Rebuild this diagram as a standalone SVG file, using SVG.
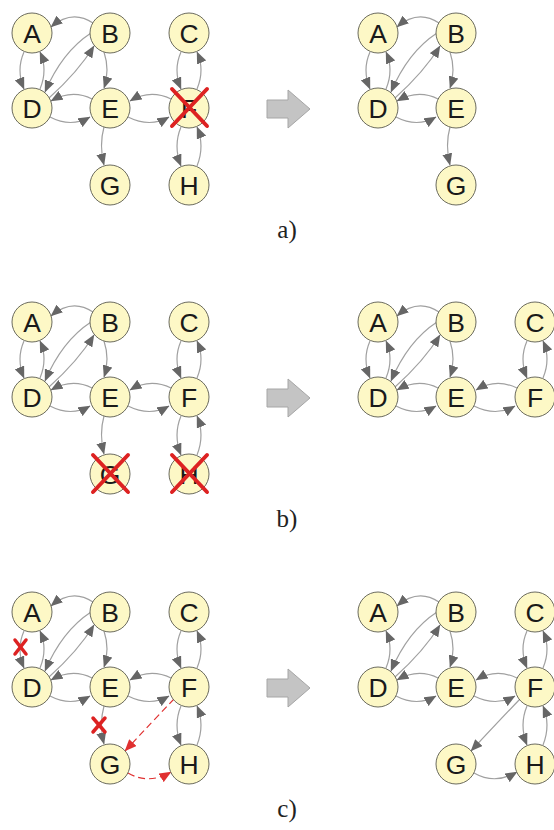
<svg xmlns="http://www.w3.org/2000/svg" width="554" height="830" viewBox="0 0 554 830">
<style>
.n{fill:#fdf8c6;stroke:#6b6b5e;stroke-width:1}
.t{font-family:"Liberation Sans",Arial,sans-serif;font-size:26.5px;fill:#1a1a1a;text-anchor:middle}
.e{fill:none;stroke:#a0a0a0;stroke-width:1.2;marker-end:url(#ah)}
.r{fill:none;stroke:#e03030;stroke-width:1.2;stroke-dasharray:7,4;marker-end:url(#ahr)}
.x{stroke:#dd2222;stroke-width:4;stroke-linecap:round}
.xs{stroke:#dd2222;stroke-width:3.5;stroke-linecap:round}
.bigarrow{fill:#c4c4c4;stroke:#a6a6a6;stroke-width:1}
.lbl{font-family:"Liberation Serif","Times New Roman",serif;font-size:25px;fill:#222;text-anchor:middle}
</style>
<defs>
<marker id="ah" markerUnits="userSpaceOnUse" markerWidth="12" markerHeight="10" refX="11.5" refY="5" orient="auto"><path d="M0,0 L12,5 L0,10 z" fill="#666"/></marker>
<marker id="ahr" markerUnits="userSpaceOnUse" markerWidth="12" markerHeight="10" refX="11.5" refY="5" orient="auto"><path d="M0,0 L12,5 L0,10 z" fill="#e03030"/></marker>
</defs>

<!-- PANEL A -->
<g id="panel-a">
 <g id="a-left-connectors">
  <path class="e" d="M93,23 Q72,9 51,27"/>
  <path class="e" d="M24,52 Q16,70 24,89"/>
  <path class="e" d="M40,89 Q48,70 40,52"/>
  <path class="e" d="M91,33 Q62,52 45,92"/>
  <path class="e" d="M49,98 Q78,72 94,46"/>
  <path class="e" d="M104,52 Q110,70 104,88"/>
  <path class="e" d="M92,99 Q72,89 51,101"/>
  <path class="e" d="M50,117 Q71,128 90,117"/>
  <path class="e" d="M171,99 Q150,89 130,101"/>
  <path class="e" d="M128,117 Q150,128 169,117"/>
  <path class="e" d="M181,52 Q173,70 181,89"/>
  <path class="e" d="M197,89 Q205,70 197,52"/>
  <path class="e" d="M104,127 Q99,145 104,165"/>
  <path class="e" d="M181,127 Q173,146 181,166"/>
  <path class="e" d="M197,166 Q205,146 197,127"/>
 </g>
 <g id="a-left-A"><circle class="n" cx="32" cy="33" r="20"/><text class="t" x="32" y="42.5">A</text></g>
 <g id="a-left-B"><circle class="n" cx="110" cy="33" r="20"/><text class="t" x="110" y="42.5">B</text></g>
 <g id="a-left-C"><circle class="n" cx="189" cy="33" r="20"/><text class="t" x="189" y="42.5">C</text></g>
 <g id="a-left-D"><circle class="n" cx="32" cy="108" r="20"/><text class="t" x="32" y="117.5">D</text></g>
 <g id="a-left-E"><circle class="n" cx="110" cy="108" r="20"/><text class="t" x="110" y="117.5">E</text></g>
 <g id="a-left-F"><circle class="n" cx="189" cy="108" r="20"/><text class="t" x="189" y="117.5">F</text></g>
 <g id="a-left-G"><circle class="n" cx="110" cy="185" r="20"/><text class="t" x="110" y="194.5">G</text></g>
 <g id="a-left-H"><circle class="n" cx="189" cy="185" r="20"/><text class="t" x="189" y="194.5">H</text></g>
 <g id="a-cross-F"><line class="x" x1="172" y1="89" x2="207" y2="126"/><line class="x" x1="207" y1="89" x2="172" y2="126"/></g>
 <polygon id="a-arrow" class="bigarrow" points="267,100 288,100 288,90 310,109 288,128 288,118 267,118"/>
 <g transform="translate(346,0)">
  <g id="a-right-connectors">
   <path class="e" d="M93,23 Q72,9 51,27"/>
   <path class="e" d="M24,52 Q16,70 24,89"/>
   <path class="e" d="M40,89 Q48,70 40,52"/>
   <path class="e" d="M91,33 Q62,52 45,92"/>
   <path class="e" d="M49,98 Q78,72 94,46"/>
   <path class="e" d="M104,52 Q110,70 104,88"/>
   <path class="e" d="M92,99 Q72,89 51,101"/>
   <path class="e" d="M50,117 Q71,128 90,117"/>
   <path class="e" d="M104,127 Q99,145 104,165"/>
  </g>
  <g id="a-right-A"><circle class="n" cx="32" cy="33" r="20"/><text class="t" x="32" y="42.5">A</text></g>
  <g id="a-right-B"><circle class="n" cx="110" cy="33" r="20"/><text class="t" x="110" y="42.5">B</text></g>
  <g id="a-right-D"><circle class="n" cx="32" cy="108" r="20"/><text class="t" x="32" y="117.5">D</text></g>
  <g id="a-right-E"><circle class="n" cx="110" cy="108" r="20"/><text class="t" x="110" y="117.5">E</text></g>
  <g id="a-right-G"><circle class="n" cx="110" cy="185" r="20"/><text class="t" x="110" y="194.5">G</text></g>
 </g>
 <text class="lbl" x="287" y="238">a)</text>
</g>

<!-- PANEL B -->
<g id="panel-b" transform="translate(0,289)">
 <g id="b-left-connectors">
  <path class="e" d="M93,23 Q72,9 51,27"/>
  <path class="e" d="M24,52 Q16,70 24,89"/>
  <path class="e" d="M40,89 Q48,70 40,52"/>
  <path class="e" d="M91,33 Q62,52 45,92"/>
  <path class="e" d="M49,98 Q78,72 94,46"/>
  <path class="e" d="M104,52 Q110,70 104,88"/>
  <path class="e" d="M92,99 Q72,89 51,101"/>
  <path class="e" d="M50,117 Q71,128 90,117"/>
  <path class="e" d="M171,99 Q150,89 130,101"/>
  <path class="e" d="M128,117 Q150,128 169,117"/>
  <path class="e" d="M181,52 Q173,70 181,89"/>
  <path class="e" d="M197,89 Q205,70 197,52"/>
  <path class="e" d="M104,127 Q99,145 104,165"/>
  <path class="e" d="M181,127 Q173,146 181,166"/>
  <path class="e" d="M197,166 Q205,146 197,127"/>
 </g>
 <g id="b-left-A"><circle class="n" cx="32" cy="33" r="20"/><text class="t" x="32" y="42.5">A</text></g>
 <g id="b-left-B"><circle class="n" cx="110" cy="33" r="20"/><text class="t" x="110" y="42.5">B</text></g>
 <g id="b-left-C"><circle class="n" cx="189" cy="33" r="20"/><text class="t" x="189" y="42.5">C</text></g>
 <g id="b-left-D"><circle class="n" cx="32" cy="108" r="20"/><text class="t" x="32" y="117.5">D</text></g>
 <g id="b-left-E"><circle class="n" cx="110" cy="108" r="20"/><text class="t" x="110" y="117.5">E</text></g>
 <g id="b-left-F"><circle class="n" cx="189" cy="108" r="20"/><text class="t" x="189" y="117.5">F</text></g>
 <g id="b-left-G"><circle class="n" cx="110" cy="185" r="20"/><text class="t" x="110" y="194.5">G</text></g>
 <g id="b-left-H"><circle class="n" cx="189" cy="185" r="20"/><text class="t" x="189" y="194.5">H</text></g>
 <g id="b-cross-G"><line class="x" x1="93" y1="166" x2="128" y2="203"/><line class="x" x1="128" y1="166" x2="93" y2="203"/></g>
 <g id="b-cross-H"><line class="x" x1="172" y1="166" x2="207" y2="203"/><line class="x" x1="207" y1="166" x2="172" y2="203"/></g>
 <polygon id="b-arrow" class="bigarrow" points="267,100 288,100 288,90 310,109 288,128 288,118 267,118"/>
 <g transform="translate(346,0)">
  <g id="b-right-connectors">
   <path class="e" d="M93,23 Q72,9 51,27"/>
   <path class="e" d="M24,52 Q16,70 24,89"/>
   <path class="e" d="M40,89 Q48,70 40,52"/>
   <path class="e" d="M91,33 Q62,52 45,92"/>
   <path class="e" d="M49,98 Q78,72 94,46"/>
   <path class="e" d="M104,52 Q110,70 104,88"/>
   <path class="e" d="M92,99 Q72,89 51,101"/>
   <path class="e" d="M50,117 Q71,128 90,117"/>
   <path class="e" d="M171,99 Q150,89 130,101"/>
   <path class="e" d="M128,117 Q150,128 169,117"/>
   <path class="e" d="M181,52 Q173,70 181,89"/>
   <path class="e" d="M197,89 Q205,70 197,52"/>
  </g>
  <g id="b-right-A"><circle class="n" cx="32" cy="33" r="20"/><text class="t" x="32" y="42.5">A</text></g>
  <g id="b-right-B"><circle class="n" cx="110" cy="33" r="20"/><text class="t" x="110" y="42.5">B</text></g>
  <g id="b-right-C"><circle class="n" cx="189" cy="33" r="20"/><text class="t" x="189" y="42.5">C</text></g>
  <g id="b-right-D"><circle class="n" cx="32" cy="108" r="20"/><text class="t" x="32" y="117.5">D</text></g>
  <g id="b-right-E"><circle class="n" cx="110" cy="108" r="20"/><text class="t" x="110" y="117.5">E</text></g>
  <g id="b-right-F"><circle class="n" cx="189" cy="108" r="20"/><text class="t" x="189" y="117.5">F</text></g>
 </g>
 <text class="lbl" x="287" y="238">b)</text>
</g>

<!-- PANEL C -->
<g id="panel-c" transform="translate(0,579)">
 <g id="c-left-connectors">
  <path class="e" d="M93,23 Q72,9 51,27"/>
  <path class="e" d="M24,52 Q16,70 24,89"/>
  <path class="e" d="M40,89 Q48,70 40,52"/>
  <path class="e" d="M91,33 Q62,52 45,92"/>
  <path class="e" d="M49,98 Q78,72 94,46"/>
  <path class="e" d="M104,52 Q110,70 104,88"/>
  <path class="e" d="M92,99 Q72,89 51,101"/>
  <path class="e" d="M50,117 Q71,128 90,117"/>
  <path class="e" d="M171,99 Q150,89 130,101"/>
  <path class="e" d="M128,117 Q150,128 169,117"/>
  <path class="e" d="M181,52 Q173,70 181,89"/>
  <path class="e" d="M197,89 Q205,70 197,52"/>
  <path class="e" d="M104,127 Q99,145 104,165"/>
  <path class="e" d="M181,127 Q173,146 181,166"/>
  <path class="e" d="M197,166 Q205,146 197,127"/>
  <path class="r" d="M174,120 Q152,143 125,172"/>
  <path class="r" d="M128,194 Q149,206 171,193"/>
 </g>
 <g id="c-left-A"><circle class="n" cx="32" cy="33" r="20"/><text class="t" x="32" y="42.5">A</text></g>
 <g id="c-left-B"><circle class="n" cx="110" cy="33" r="20"/><text class="t" x="110" y="42.5">B</text></g>
 <g id="c-left-C"><circle class="n" cx="189" cy="33" r="20"/><text class="t" x="189" y="42.5">C</text></g>
 <g id="c-left-D"><circle class="n" cx="32" cy="108" r="20"/><text class="t" x="32" y="117.5">D</text></g>
 <g id="c-left-E"><circle class="n" cx="110" cy="108" r="20"/><text class="t" x="110" y="117.5">E</text></g>
 <g id="c-left-F"><circle class="n" cx="189" cy="108" r="20"/><text class="t" x="189" y="117.5">F</text></g>
 <g id="c-left-G"><circle class="n" cx="110" cy="185" r="20"/><text class="t" x="110" y="194.5">G</text></g>
 <g id="c-left-H"><circle class="n" cx="189" cy="185" r="20"/><text class="t" x="189" y="194.5">H</text></g>
 <g id="c-cross-AD"><line class="xs" x1="15" y1="61" x2="26" y2="75"/><line class="xs" x1="26" y1="61" x2="15" y2="75"/></g>
 <g id="c-cross-EG"><line class="xs" x1="93" y1="139" x2="105" y2="153"/><line class="xs" x1="105" y1="139" x2="93" y2="153"/></g>
 <polygon id="c-arrow" class="bigarrow" points="267,100 288,100 288,90 310,109 288,128 288,118 267,118"/>
 <g transform="translate(346,0)">
  <g id="c-right-connectors">
   <path class="e" d="M93,23 Q72,9 51,27"/>
   <path class="e" d="M40,89 Q48,70 40,52"/>
   <path class="e" d="M91,33 Q62,52 45,92"/>
   <path class="e" d="M49,98 Q78,72 94,46"/>
   <path class="e" d="M104,52 Q110,70 104,88"/>
   <path class="e" d="M92,99 Q72,89 51,101"/>
   <path class="e" d="M50,117 Q71,128 90,117"/>
   <path class="e" d="M171,99 Q150,89 130,101"/>
   <path class="e" d="M128,117 Q150,128 169,117"/>
   <path class="e" d="M181,52 Q173,70 181,89"/>
   <path class="e" d="M197,89 Q205,70 197,52"/>
   <path class="e" d="M181,127 Q173,146 181,166"/>
   <path class="e" d="M197,166 Q205,146 197,127"/>
   <path class="e" d="M174,120 Q152,143 125,172"/>
   <path class="e" d="M128,194 Q149,206 171,193"/>
  </g>
  <g id="c-right-A"><circle class="n" cx="32" cy="33" r="20"/><text class="t" x="32" y="42.5">A</text></g>
  <g id="c-right-B"><circle class="n" cx="110" cy="33" r="20"/><text class="t" x="110" y="42.5">B</text></g>
  <g id="c-right-C"><circle class="n" cx="189" cy="33" r="20"/><text class="t" x="189" y="42.5">C</text></g>
  <g id="c-right-D"><circle class="n" cx="32" cy="108" r="20"/><text class="t" x="32" y="117.5">D</text></g>
  <g id="c-right-E"><circle class="n" cx="110" cy="108" r="20"/><text class="t" x="110" y="117.5">E</text></g>
  <g id="c-right-F"><circle class="n" cx="189" cy="108" r="20"/><text class="t" x="189" y="117.5">F</text></g>
  <g id="c-right-G"><circle class="n" cx="110" cy="185" r="20"/><text class="t" x="110" y="194.5">G</text></g>
  <g id="c-right-H"><circle class="n" cx="189" cy="185" r="20"/><text class="t" x="189" y="194.5">H</text></g>
 </g>
 <text class="lbl" x="287" y="238">c)</text>
</g>
</svg>
